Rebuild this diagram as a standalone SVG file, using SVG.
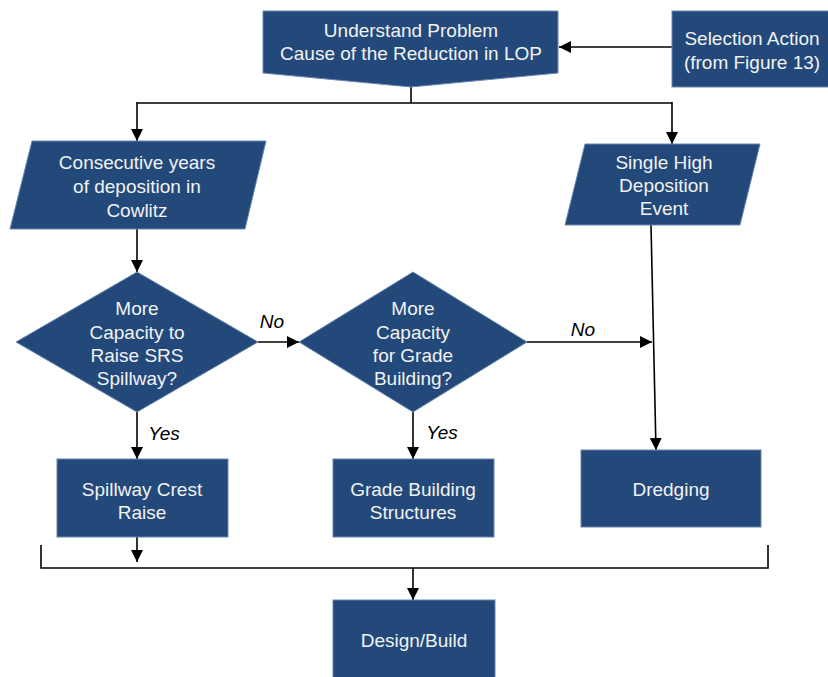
<svg xmlns="http://www.w3.org/2000/svg" width="828" height="677" viewBox="0 0 828 677">
<defs>
<marker id="ah" markerWidth="12" markerHeight="12" viewBox="0 0 12 12" refX="12" refY="6" orient="auto" markerUnits="userSpaceOnUse">
<path d="M0,0 L12,6 L0,12 Z" fill="#000"/>
</marker>
</defs>
<style>
.n{fill:#23497b;stroke:#6a86ad;stroke-width:1}
.t{font-family:"Liberation Sans",Arial,sans-serif;font-size:19px;fill:#f2f2f2;text-anchor:middle}
.l{font-family:"Liberation Sans",Arial,sans-serif;font-size:19px;font-style:italic;fill:#000;text-anchor:middle}
.c{fill:none;stroke:#000;stroke-width:1.6}
.a{marker-end:url(#ah)}
</style>
<rect width="828" height="677" fill="#fff"/>
<g id="connectors">
<path class="c a" d="M672,47 L559,47"/>
<path class="c" d="M411,87 L411,103 M137,103 L672,103"/>
<path class="c a" d="M137,102 L137,141"/>
<path class="c a" d="M672,102 L672,144"/>
<path class="c a" d="M137,229 L137,272"/>
<path class="c a" d="M258,342 L299,342"/>
<path class="c a" d="M527,342 L652,342"/>
<path class="c a" d="M651,225 L656,450"/>
<path class="c a" d="M137,412 L137,459"/>
<path class="c a" d="M413,412 L413,459"/>
<path class="c a" d="M137,537 L137,562"/>
<path class="c" d="M41,545 L41,568 L768,568 L768,545"/>
<path class="c a" d="M413,568 L413,600"/>
</g>
<g id="labels">
<text class="l" x="272" y="328">No</text>
<text class="l" x="583" y="336">No</text>
<text class="l" x="164" y="440">Yes</text>
<text class="l" x="442" y="439">Yes</text>
</g>
<g id="understand">
<path class="n" d="M263,11 L558,11 L558,73 L411,87 L263,73 Z"/>
<text class="t" x="411" y="37">Understand Problem</text>
<text class="t" x="411" y="60">Cause of the Reduction in LOP</text>
</g>
<g id="selection">
<rect class="n" x="672" y="11" width="160" height="76"/>
<text class="t" x="752" y="45">Selection Action</text>
<text class="t" x="752" y="69">(from Figure 13)</text>
</g>
<g id="consecutive">
<path class="n" d="M32,141 L266,141 L245,229 L10,229 Z"/>
<text class="t" x="137" y="169">Consecutive years</text>
<text class="t" x="137" y="193">of deposition in</text>
<text class="t" x="137" y="217">Cowlitz</text>
</g>
<g id="single">
<path class="n" d="M585,144 L760,144 L740,225 L565,225 Z"/>
<text class="t" x="664" y="169">Single High</text>
<text class="t" x="664" y="192">Deposition</text>
<text class="t" x="664" y="215">Event</text>
</g>
<g id="diamond1">
<path class="n" d="M137,272 L258,342 L137,412 L16,342 Z"/>
<text class="t" x="137" y="315">More</text>
<text class="t" x="137" y="339">Capacity to</text>
<text class="t" x="137" y="362">Raise SRS</text>
<text class="t" x="137" y="385">Spillway?</text>
</g>
<g id="diamond2">
<path class="n" d="M413,272 L527,342 L413,412 L299,342 Z"/>
<text class="t" x="413" y="315">More</text>
<text class="t" x="413" y="339">Capacity</text>
<text class="t" x="413" y="362">for Grade</text>
<text class="t" x="413" y="385">Building?</text>
</g>
<g id="spillway">
<rect class="n" x="57" y="459" width="171" height="78"/>
<text class="t" x="142" y="496">Spillway Crest</text>
<text class="t" x="142" y="519">Raise</text>
</g>
<g id="grade">
<rect class="n" x="333" y="459" width="161" height="78"/>
<text class="t" x="413" y="496">Grade Building</text>
<text class="t" x="413" y="519">Structures</text>
</g>
<g id="dredging">
<rect class="n" x="581" y="450" width="180" height="77"/>
<text class="t" x="671" y="496">Dredging</text>
</g>
<g id="design">
<rect class="n" x="333" y="600" width="162" height="82"/>
<text class="t" x="414" y="647">Design/Build</text>
</g>
</svg>
